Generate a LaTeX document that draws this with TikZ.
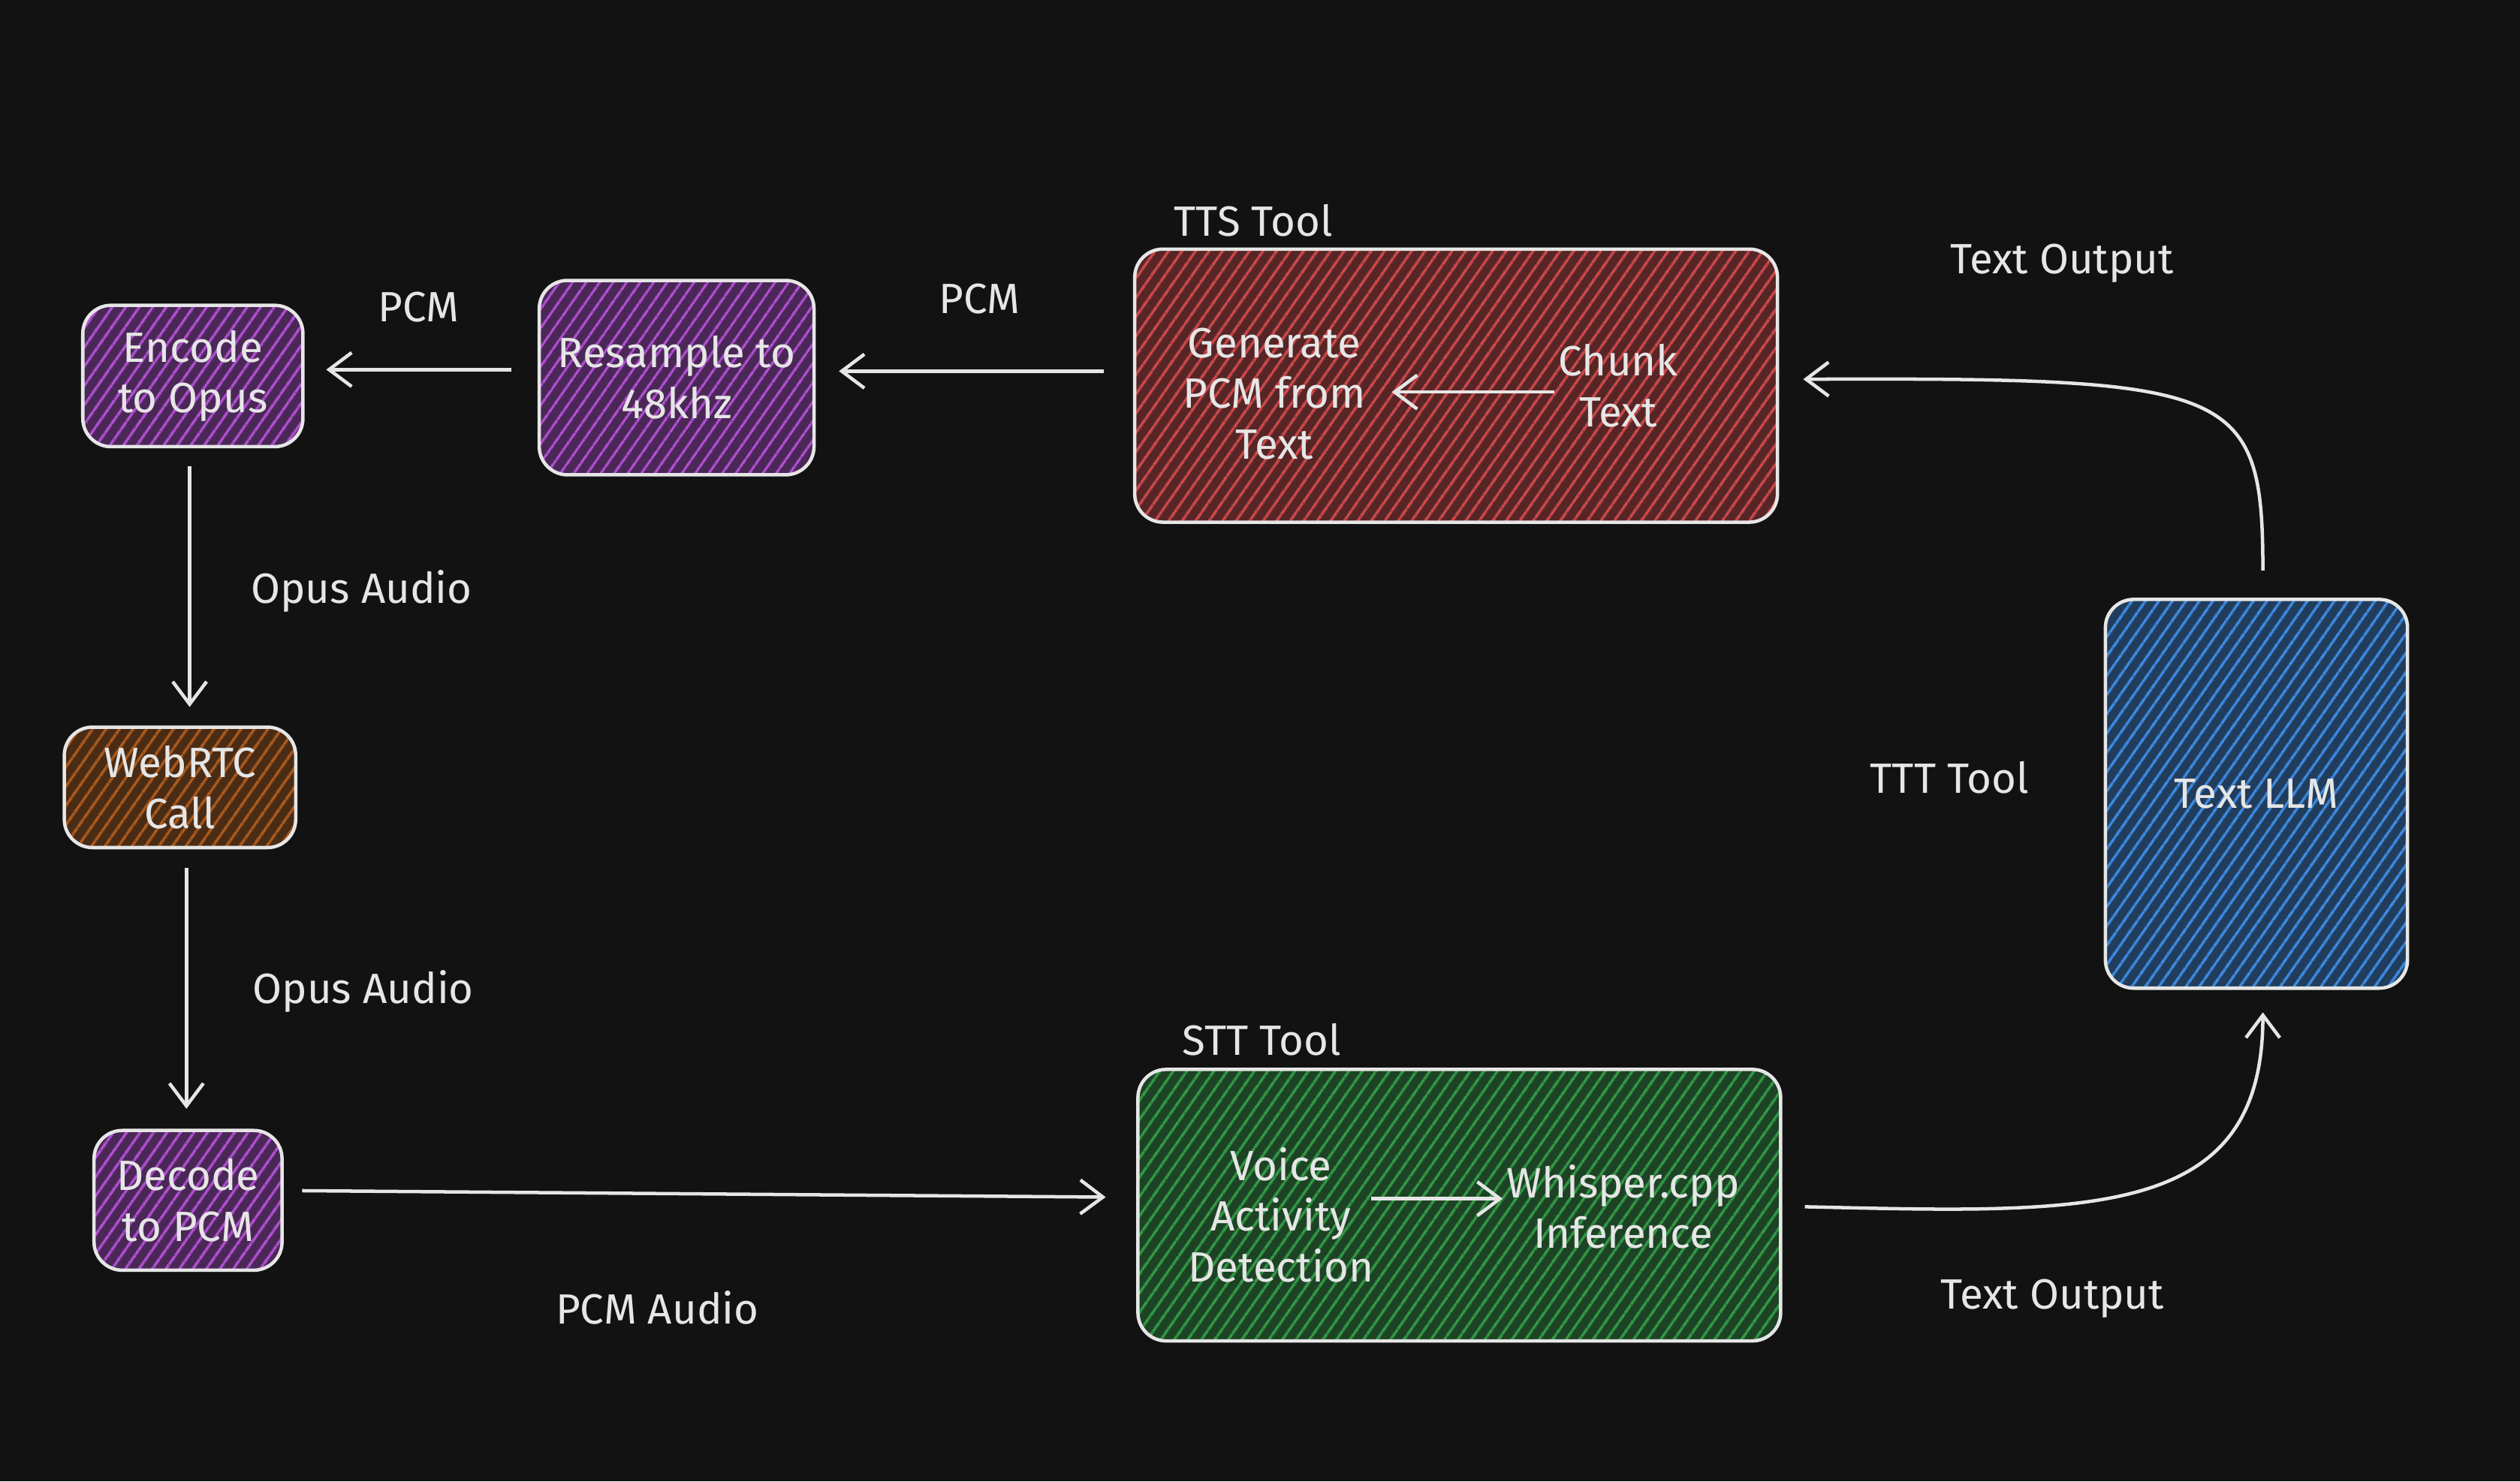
\documentclass[tikz,border=0pt]{standalone}
\usepackage{fontspec}
\setmainfont{Fira Sans}
\usetikzlibrary{patterns.meta,arrows.meta}
\definecolor{bg}{HTML}{121212}
\definecolor{fg}{HTML}{E6E6E6}
\definecolor{cpur}{HTML}{B54FD9}
\definecolor{cred}{HTML}{D6474A}
\definecolor{cblu}{HTML}{3B8EEA}
\definecolor{cgrn}{HTML}{2F9E44}
\definecolor{cora}{HTML}{B35A18}
\begin{document}
\begin{tikzpicture}[x=0.02cm,y=-0.02cm,
  every node/.style={text=fg,font=\fontsize{15}{18}\selectfont,align=center},
  box/.style={draw=fg,line width=1.2pt,rounded corners=10pt,inner sep=0pt},
  hatch/.style={preaction={fill=#1!35!bg},pattern={Lines[angle=55,distance=4pt,line width=0.9pt]},pattern color=#1},
  arr/.style={draw=fg,line width=1.2pt,-{Straight Barb[length=8pt,width=12pt]}}]
\fill[bg] (0,0) rectangle (1568,922);
\useasboundingbox (0,0) rectangle (1568,922);
% boxes
\node[box,hatch=cpur,minimum width=2.74cm,minimum height=1.76cm] (enc) at (120,234) {Encode\\to Opus};
\node[box,hatch=cpur,minimum width=3.42cm,minimum height=2.42cm] (res) at (421,235) {Resample to\\48khz};
\node[box,hatch=cred,minimum width=8cm,minimum height=3.4cm] (tts) at (906,240) {};
\node[box,hatch=cblu,minimum width=3.76cm,minimum height=4.84cm] (llm) at (1404,494) {Text LLM};
\node[box,hatch=cora,minimum width=2.88cm,minimum height=1.5cm] (web) at (112,490) {WebRTC\\Call};
\node[box,hatch=cpur,minimum width=2.34cm,minimum height=1.74cm] (dec) at (117,747) {Decode\\to PCM};
\node[box,hatch=cgrn,minimum width=8cm,minimum height=3.38cm] (stt) at (908,750) {};
% inner
\node (gen) at (793,245) {Generate\\PCM from\\Text};
\node (chk) at (1007,240) {Chunk\\Text};
\node (vad) at (797,756) {Voice\\Activity\\Detection};
\node (wsp) at (1010,751) {Whisper.cpp\\Inference};
\node at (780,137) {TTS Tool};
\node at (785,647) {STT Tool};
\node at (1213,484) {TTT Tool};
% connectors
\coordinate (a1) at (967,244); \coordinate (a2) at (866,244);
\draw[arr] (a1) -- (a2);
\coordinate (b1) at (853,746); \coordinate (b2) at (935,746);
\draw[arr] (b1) -- (b2);
\coordinate (c1) at (687,231); \coordinate (c2) at (522,231);
\draw[arr] (c1) -- node[pos=0.47,yshift=0.9cm]{PCM} (c2);
\coordinate (d1) at (318,230); \coordinate (d2) at (203,230);
\draw[arr] (d1) -- node[pos=0.5,yshift=0.78cm]{PCM} (d2);
\coordinate (e1) at (118,290); \coordinate (e2) at (118,440);
\draw[arr] (e1) -- (e2); \node at (225,368) {Opus Audio};
\coordinate (f1) at (116,540); \coordinate (f2) at (116,690);
\draw[arr] (f1) -- (f2); \node at (226,617) {Opus Audio};
\coordinate (g1) at (188,741); \coordinate (g2) at (688,745);
\draw[arr] (g1) -- (g2); \node at (409,814) {PCM Audio};
\coordinate (h1) at (1123,751); \coordinate (h2) at (1408,630);
\draw[arr] (h1) .. controls (1300,755) and (1408,760) .. (h2);
\node at (1277,808) {Text Output};
\coordinate (i1) at (1408,355); \coordinate (i2) at (1122,236);
\draw[arr] (i1) .. controls (1408,240) and (1390,235) .. (i2);
\node at (1283,164) {Text Output};
\end{tikzpicture}
\end{document}
